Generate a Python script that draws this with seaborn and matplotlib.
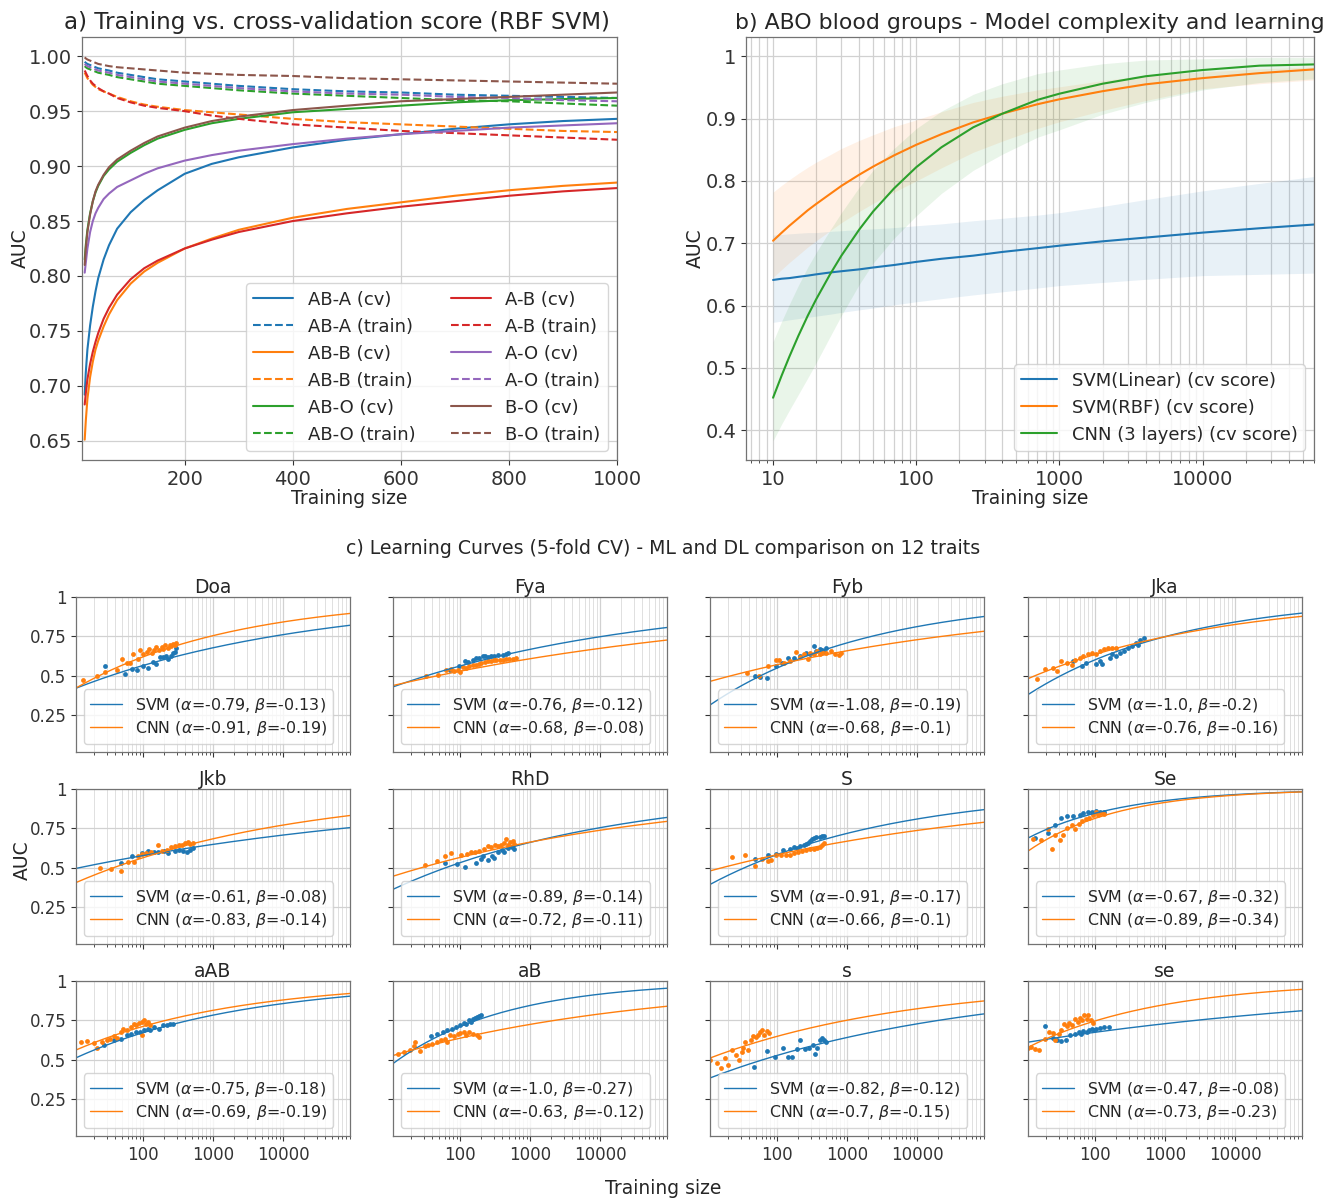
import numpy as np
import matplotlib
matplotlib.use("Agg")
import matplotlib.pyplot as plt
import seaborn as sns

# ---------------------------------------------------------------- style
sns.set_style("white")
plt.rcParams["font.family"] = ["DejaVu Sans"]
plt.rcParams["axes.edgecolor"] = "0.45"
plt.rcParams["axes.linewidth"] = 0.9
plt.rcParams["xtick.color"] = "0.2"
plt.rcParams["ytick.color"] = "0.2"
plt.rcParams["xtick.bottom"] = True
plt.rcParams["ytick.left"] = True
plt.rcParams["axes.spines.top"] = True
plt.rcParams["axes.spines.right"] = True

PAL = sns.color_palette("tab10")
C_BLUE, C_ORANGE, C_GREEN, C_RED, C_PURPLE, C_BROWN = PAL[:6]

W, H = 1326, 1199
fig = plt.figure(figsize=(W / 100, H / 100), dpi=100)


def rect(l, t, r, b):
    return [l / W, 1 - b / H, (r - l) / W, (b - t) / H]


# ---------------------------------------------------------------- panel a data
train_size_a = [15, 17, 20, 25, 30, 35, 40, 50, 60, 75, 100, 125, 150, 200, 250, 300, 400, 500, 600, 700, 800, 900, 1000]

ab_a_cv = [0.692, 0.712, 0.733, 0.755, 0.772, 0.786, 0.798, 0.815, 0.828, 0.843, 0.858, 0.869, 0.878, 0.893, 0.902, 0.908, 0.917, 0.924, 0.929, 0.934, 0.938, 0.941, 0.943]
ab_a_train = [0.995, 0.994, 0.993, 0.992, 0.991, 0.990, 0.989, 0.988, 0.987, 0.985, 0.983, 0.981, 0.979, 0.977, 0.975, 0.973, 0.970, 0.968, 0.967, 0.965, 0.964, 0.963, 0.962]
ab_b_cv = [0.651, 0.668, 0.688, 0.708, 0.722, 0.733, 0.741, 0.754, 0.765, 0.778, 0.793, 0.804, 0.812, 0.825, 0.834, 0.842, 0.853, 0.861, 0.867, 0.873, 0.878, 0.882, 0.885]
ab_b_train = [0.985, 0.983, 0.980, 0.977, 0.974, 0.972, 0.970, 0.968, 0.966, 0.963, 0.959, 0.956, 0.954, 0.951, 0.949, 0.947, 0.943, 0.940, 0.938, 0.936, 0.934, 0.932, 0.931]
ab_o_cv = [0.815, 0.828, 0.842, 0.857, 0.868, 0.876, 0.882, 0.891, 0.897, 0.904, 0.912, 0.919, 0.925, 0.933, 0.939, 0.943, 0.949, 0.952, 0.955, 0.958, 0.960, 0.961, 0.962]
ab_o_train = [0.991, 0.990, 0.989, 0.988, 0.987, 0.986, 0.985, 0.984, 0.983, 0.981, 0.979, 0.977, 0.975, 0.973, 0.971, 0.969, 0.966, 0.964, 0.962, 0.960, 0.959, 0.957, 0.955]
a_b_cv = [0.683, 0.693, 0.706, 0.720, 0.731, 0.740, 0.748, 0.761, 0.771, 0.783, 0.797, 0.807, 0.814, 0.825, 0.833, 0.840, 0.850, 0.857, 0.863, 0.868, 0.873, 0.877, 0.880]
a_b_train = [0.987, 0.985, 0.982, 0.978, 0.975, 0.973, 0.971, 0.968, 0.966, 0.962, 0.958, 0.955, 0.953, 0.950, 0.946, 0.943, 0.938, 0.935, 0.932, 0.930, 0.928, 0.926, 0.924]
a_o_cv = [0.803, 0.812, 0.825, 0.840, 0.850, 0.857, 0.862, 0.870, 0.875, 0.881, 0.887, 0.893, 0.898, 0.905, 0.910, 0.914, 0.920, 0.925, 0.929, 0.932, 0.935, 0.937, 0.939]
a_o_train = [0.993, 0.992, 0.991, 0.990, 0.989, 0.988, 0.987, 0.986, 0.985, 0.983, 0.981, 0.979, 0.977, 0.975, 0.973, 0.971, 0.968, 0.966, 0.965, 0.963, 0.962, 0.960, 0.959]
b_o_cv = [0.810, 0.825, 0.840, 0.856, 0.868, 0.877, 0.883, 0.892, 0.899, 0.906, 0.914, 0.921, 0.927, 0.935, 0.941, 0.945, 0.951, 0.955, 0.959, 0.961, 0.963, 0.965, 0.967]
b_o_train = [0.999, 0.998, 0.997, 0.996, 0.995, 0.994, 0.993, 0.992, 0.991, 0.990, 0.989, 0.988, 0.987, 0.985, 0.984, 0.983, 0.982, 0.980, 0.979, 0.978, 0.977, 0.976, 0.975]

# ---------------------------------------------------------------- panel b data
train_size_b = [10, 11.5, 13, 15, 17.5, 20, 25, 30, 40, 50, 70, 100, 150, 250, 400, 700, 1000, 2000, 4000, 10000, 25000, 60000]

svm_lin_mean = [0.641, 0.643, 0.644, 0.646, 0.648, 0.650, 0.653, 0.655, 0.658, 0.661, 0.665, 0.670, 0.675, 0.680, 0.686, 0.692, 0.696, 0.703, 0.709, 0.717, 0.724, 0.730]
svm_lin_low = [0.573, 0.575, 0.577, 0.579, 0.581, 0.583, 0.586, 0.589, 0.593, 0.596, 0.601, 0.606, 0.611, 0.617, 0.622, 0.628, 0.632, 0.637, 0.642, 0.648, 0.650, 0.652]
svm_lin_high = [0.713, 0.714, 0.715, 0.716, 0.717, 0.717, 0.719, 0.720, 0.722, 0.723, 0.725, 0.728, 0.731, 0.736, 0.740, 0.745, 0.749, 0.759, 0.770, 0.784, 0.796, 0.807]

svm_rbf_mean = [0.704, 0.717, 0.728, 0.740, 0.753, 0.763, 0.779, 0.792, 0.810, 0.823, 0.841, 0.858, 0.875, 0.894, 0.908, 0.923, 0.931, 0.944, 0.955, 0.965, 0.973, 0.979]
svm_rbf_low = [0.645, 0.658, 0.669, 0.681, 0.694, 0.704, 0.720, 0.733, 0.751, 0.764, 0.782, 0.800, 0.821, 0.846, 0.864, 0.884, 0.895, 0.913, 0.929, 0.948, 0.956, 0.962]
svm_rbf_high = [0.782, 0.793, 0.802, 0.812, 0.822, 0.830, 0.842, 0.852, 0.865, 0.874, 0.887, 0.898, 0.911, 0.926, 0.936, 0.946, 0.951, 0.961, 0.969, 0.975, 0.980, 0.983]

cnn_mean = [0.452, 0.488, 0.518, 0.551, 0.584, 0.610, 0.650, 0.680, 0.722, 0.751, 0.788, 0.822, 0.854, 0.886, 0.908, 0.930, 0.940, 0.956, 0.968, 0.978, 0.985, 0.987]
cnn_low = [0.383, 0.410, 0.432, 0.457, 0.484, 0.508, 0.550, 0.584, 0.634, 0.668, 0.708, 0.744, 0.780, 0.817, 0.843, 0.870, 0.882, 0.907, 0.926, 0.946, 0.958, 0.964]
cnn_high = [0.542, 0.575, 0.602, 0.632, 0.662, 0.685, 0.721, 0.749, 0.790, 0.817, 0.852, 0.884, 0.912, 0.939, 0.956, 0.972, 0.978, 0.988, 0.994, 0.996, 0.998, 0.998]

# ---------------------------------------------------------------- panel c data
traits = ["Doa", "Fya", "Fyb", "Jka", "Jkb", "RhD", "S", "Se", "aAB", "aB", "s", "se"]
svm_alpha = [-0.79, -0.76, -1.08, -1.0, -0.61, -0.89, -0.91, -0.67, -0.75, -1.0, -0.82, -0.47]
svm_beta = [-0.13, -0.12, -0.19, -0.2, -0.08, -0.14, -0.17, -0.32, -0.18, -0.27, -0.12, -0.08]
cnn_alpha = [-0.91, -0.68, -0.68, -0.76, -0.83, -0.72, -0.66, -0.89, -0.69, -0.63, -0.7, -0.73]
cnn_beta = [-0.19, -0.08, -0.1, -0.16, -0.14, -0.11, -0.1, -0.34, -0.19, -0.12, -0.15, -0.23]

doa_svm_n = [29, 56, 70, 82, 100, 118, 139, 155, 173, 193, 211, 228, 246, 268, 283, 299]
doa_svm_auc = [0.560, 0.514, 0.545, 0.535, 0.560, 0.552, 0.588, 0.577, 0.619, 0.619, 0.624, 0.609, 0.624, 0.645, 0.651, 0.679]
doa_cnn_n = [14, 22, 29, 43, 50, 58, 66, 72, 85, 90, 100, 112, 122, 132, 142, 155, 169, 183, 193, 208, 228, 240, 254, 268, 283, 299]
doa_cnn_auc = [0.471, 0.499, 0.524, 0.535, 0.605, 0.581, 0.583, 0.641, 0.609, 0.662, 0.636, 0.651, 0.672, 0.645, 0.662, 0.683, 0.662, 0.683, 0.672, 0.693, 0.679, 0.693, 0.687, 0.704, 0.693, 0.708]

fya_svm_n = [71, 96, 118, 129, 152, 169, 189, 211, 228, 249, 277, 309, 345, 407, 454, 480]
fya_svm_auc = [0.539, 0.560, 0.592, 0.586, 0.598, 0.613, 0.613, 0.624, 0.624, 0.619, 0.624, 0.628, 0.630, 0.634, 0.641, 0.645]
fya_cnn_n = [33, 48, 63, 74, 81, 93, 98, 109, 122, 136, 152, 169, 183, 199, 223, 249, 277, 303, 327, 365, 407, 454, 507, 566, 632]
fya_cnn_auc = [0.501, 0.507, 0.539, 0.543, 0.533, 0.539, 0.522, 0.556, 0.550, 0.560, 0.571, 0.571, 0.577, 0.581, 0.586, 0.592, 0.592, 0.598, 0.603, 0.598, 0.603, 0.607, 0.607, 0.609, 0.611]

fyb_svm_n = [49, 57, 71, 95, 117, 142, 174, 213, 260, 297, 339, 362, 403, 443, 473, 506]
fyb_svm_auc = [0.499, 0.493, 0.484, 0.562, 0.583, 0.615, 0.611, 0.626, 0.647, 0.636, 0.689, 0.657, 0.668, 0.662, 0.653, 0.674]
fyb_cnn_n = [37, 56, 75, 95, 106, 125, 152, 186, 213, 243, 278, 297, 339, 372, 414, 443, 506, 579, 662, 757, 809]
fyb_cnn_auc = [0.520, 0.499, 0.562, 0.598, 0.598, 0.583, 0.594, 0.653, 0.619, 0.636, 0.605, 0.647, 0.641, 0.657, 0.641, 0.653, 0.647, 0.657, 0.641, 0.632, 0.647]

jka_svm_n = [49, 64, 73, 102, 117, 125, 163, 174, 199, 227, 260, 297, 339, 387, 414, 443, 506]
jka_svm_auc = [0.594, 0.562, 0.583, 0.577, 0.594, 0.577, 0.615, 0.636, 0.626, 0.647, 0.657, 0.674, 0.689, 0.710, 0.696, 0.725, 0.742]
jka_cnn_n = [15, 19, 25, 29, 33, 40, 46, 51, 60, 68, 78, 89, 102, 117, 133, 152, 174, 199]
jka_cnn_auc = [0.478, 0.541, 0.548, 0.531, 0.594, 0.583, 0.569, 0.598, 0.611, 0.626, 0.641, 0.647, 0.636, 0.657, 0.668, 0.674, 0.679, 0.674]

jkb_svm_n = [48, 69, 96, 118, 144, 164, 201, 230, 281, 321, 368, 421, 469, 515]
jkb_svm_auc = [0.529, 0.572, 0.593, 0.608, 0.600, 0.600, 0.604, 0.593, 0.608, 0.615, 0.608, 0.600, 0.615, 0.625]
jkb_cnn_n = [24, 35, 48, 60, 73, 84, 96, 110, 129, 164, 188, 221, 253, 289, 321, 358, 393, 432, 469, 515]
jkb_cnn_auc = [0.501, 0.493, 0.480, 0.535, 0.540, 0.578, 0.587, 0.593, 0.600, 0.642, 0.604, 0.615, 0.630, 0.636, 0.642, 0.647, 0.657, 0.664, 0.651, 0.657]

rhd_svm_n = [60, 90, 118, 169, 201, 215, 246, 281, 301, 344, 393, 421, 481, 550, 588]
rhd_svm_auc = [0.529, 0.522, 0.508, 0.529, 0.557, 0.578, 0.550, 0.572, 0.561, 0.600, 0.615, 0.600, 0.625, 0.630, 0.621]
rhd_cnn_n = [31, 46, 60, 73, 103, 126, 144, 164, 188, 221, 246, 274, 314, 344, 378, 421, 450, 481, 515, 565, 588]
rhd_cnn_auc = [0.518, 0.544, 0.578, 0.593, 0.582, 0.587, 0.600, 0.600, 0.608, 0.621, 0.636, 0.630, 0.647, 0.636, 0.642, 0.657, 0.685, 0.647, 0.664, 0.672, 0.651]

s_up_svm_n = [49, 73, 95, 121, 152, 174, 191, 213, 243, 260, 278, 297, 318, 339, 362, 403, 443, 473]
s_up_svm_auc = [0.558, 0.584, 0.590, 0.611, 0.622, 0.633, 0.626, 0.639, 0.648, 0.654, 0.660, 0.669, 0.682, 0.690, 0.696, 0.696, 0.701, 0.703]
s_up_cnn_n = [23, 35, 48, 60, 73, 83, 95, 112, 133, 152, 174, 199, 227, 260, 297, 339, 372, 414, 443, 473]
s_up_cnn_auc = [0.569, 0.580, 0.512, 0.554, 0.541, 0.548, 0.580, 0.580, 0.584, 0.584, 0.597, 0.601, 0.605, 0.611, 0.618, 0.622, 0.626, 0.633, 0.643, 0.660]

se_up_svm_n = [14, 21, 27, 33, 40, 49, 60, 68, 78, 89, 102, 117, 133]
se_up_svm_auc = [0.690, 0.718, 0.771, 0.813, 0.830, 0.830, 0.834, 0.845, 0.851, 0.856, 0.860, 0.851, 0.856]
se_up_cnn_n = [13, 17, 21, 24, 27, 31, 35, 40, 46, 52, 58, 64, 73, 83, 92, 102, 109, 120, 133]
se_up_cnn_auc = [0.686, 0.675, 0.745, 0.618, 0.711, 0.675, 0.707, 0.754, 0.771, 0.749, 0.781, 0.796, 0.809, 0.817, 0.834, 0.851, 0.834, 0.845, 0.839]

aab_svm_n = [28, 39, 48, 59, 68, 78, 90, 103, 118, 127, 145, 167, 192, 220, 243, 271]
aab_svm_auc = [0.591, 0.623, 0.634, 0.655, 0.662, 0.677, 0.677, 0.687, 0.698, 0.687, 0.709, 0.698, 0.719, 0.719, 0.730, 0.726]
aab_cnn_n = [13, 16, 20, 22, 26, 30, 34, 38, 42, 48, 51, 59, 68, 73, 78, 87, 96, 103, 110, 118, 127, 96]
aab_cnn_auc = [0.613, 0.619, 0.606, 0.577, 0.613, 0.628, 0.634, 0.649, 0.640, 0.677, 0.698, 0.687, 0.709, 0.730, 0.719, 0.734, 0.740, 0.751, 0.726, 0.740, 0.719, 0.655]

ab_svm_n = [39, 46, 57, 66, 76, 87, 100, 115, 123, 132, 142, 152, 163, 175, 188, 201]
ab_svm_auc = [0.649, 0.662, 0.677, 0.687, 0.698, 0.709, 0.719, 0.734, 0.726, 0.751, 0.740, 0.762, 0.768, 0.772, 0.777, 0.783]
ab_cnn_n = [13, 16, 19, 22, 23, 27, 31, 35, 40, 46, 53, 61, 66, 71, 81, 93, 100, 115, 123, 132, 152, 175, 188]
ab_cnn_auc = [0.538, 0.549, 0.560, 0.585, 0.613, 0.555, 0.585, 0.591, 0.602, 0.613, 0.623, 0.634, 0.613, 0.655, 0.649, 0.662, 0.670, 0.677, 0.655, 0.677, 0.666, 0.655, 0.645]

s_lo_svm_n = [46, 71, 93, 120, 142, 163, 193, 215, 248, 285, 327, 351, 376, 404, 433, 465, 498]
s_lo_svm_auc = [0.457, 0.555, 0.517, 0.577, 0.517, 0.517, 0.570, 0.623, 0.570, 0.577, 0.591, 0.534, 0.577, 0.628, 0.640, 0.623, 0.613]
s_lo_cnn_n = [11, 14, 16, 18, 20, 23, 26, 29, 31, 33, 35, 39, 42, 45, 50, 53, 57, 61, 66, 71, 76]
s_lo_cnn_auc = [0.496, 0.479, 0.449, 0.513, 0.470, 0.560, 0.528, 0.496, 0.549, 0.577, 0.613, 0.564, 0.623, 0.649, 0.645, 0.655, 0.677, 0.687, 0.655, 0.683, 0.670]

se_lo_svm_n = [19, 25, 29, 33, 38, 44, 51, 59, 63, 67, 76, 83, 89, 96, 103, 118, 136, 157]
se_lo_svm_auc = [0.713, 0.640, 0.623, 0.619, 0.623, 0.655, 0.666, 0.677, 0.666, 0.683, 0.677, 0.687, 0.698, 0.687, 0.698, 0.704, 0.709, 0.709]
se_lo_cnn_n = [11, 12, 14, 16, 19, 22, 25, 27, 30, 33, 36, 40, 43, 47, 51, 57, 60, 66, 69, 76, 80, 87, 92]
se_lo_cnn_auc = [0.577, 0.581, 0.570, 0.564, 0.634, 0.677, 0.670, 0.628, 0.666, 0.687, 0.726, 0.713, 0.734, 0.719, 0.762, 0.740, 0.768, 0.755, 0.783, 0.762, 0.787, 0.751, 0.734]

points = [
    (doa_svm_n, doa_svm_auc, doa_cnn_n, doa_cnn_auc),
    (fya_svm_n, fya_svm_auc, fya_cnn_n, fya_cnn_auc),
    (fyb_svm_n, fyb_svm_auc, fyb_cnn_n, fyb_cnn_auc),
    (jka_svm_n, jka_svm_auc, jka_cnn_n, jka_cnn_auc),
    (jkb_svm_n, jkb_svm_auc, jkb_cnn_n, jkb_cnn_auc),
    (rhd_svm_n, rhd_svm_auc, rhd_cnn_n, rhd_cnn_auc),
    (s_up_svm_n, s_up_svm_auc, s_up_cnn_n, s_up_cnn_auc),
    (se_up_svm_n, se_up_svm_auc, se_up_cnn_n, se_up_cnn_auc),
    (aab_svm_n, aab_svm_auc, aab_cnn_n, aab_cnn_auc),
    (ab_svm_n, ab_svm_auc, ab_cnn_n, ab_cnn_auc),
    (s_lo_svm_n, s_lo_svm_auc, s_lo_cnn_n, s_lo_cnn_auc),
    (se_lo_svm_n, se_lo_svm_auc, se_lo_cnn_n, se_lo_cnn_auc),
]

GRID_MAJ = dict(color="0.82", linewidth=0.9)
GRID_MIN = dict(color="0.88", linewidth=0.7)

# ---------------------------------------------------------------- panel a
ax_a = fig.add_axes(rect(82, 37, 617, 460))
series_a = [
    ("AB-A", C_BLUE, ab_a_cv, ab_a_train),
    ("AB-B", C_ORANGE, ab_b_cv, ab_b_train),
    ("AB-O", C_GREEN, ab_o_cv, ab_o_train),
    ("A-B", C_RED, a_b_cv, a_b_train),
    ("A-O", C_PURPLE, a_o_cv, a_o_train),
    ("B-O", C_BROWN, b_o_cv, b_o_train),
]
for name, col, cv, tr in series_a:
    sns.lineplot(x=train_size_a, y=cv, ax=ax_a, color=col, linewidth=1.5,
                 label=f"{name} (cv)", estimator=None, sort=False)
    sns.lineplot(x=train_size_a, y=tr, ax=ax_a, color=col, linewidth=1.5,
                 linestyle="--", label=f"{name} (train)", estimator=None, sort=False)
ax_a.set_xlim(10, 1000)
ax_a.set_ylim(0.6325, 1.0175)
ax_a.set_xticks([200, 400, 600, 800, 1000])
ax_a.set_yticks(np.arange(0.65, 1.001, 0.05))
ax_a.set_yticklabels([f"{v:.2f}" for v in np.arange(0.65, 1.001, 0.05)])
ax_a.grid(True, **GRID_MAJ)
ax_a.tick_params(labelsize=14)
ax_a.set_xlabel("Training size", fontsize=13.5, labelpad=0)
ax_a.set_ylabel("AUC", fontsize=13.5)
ax_a.yaxis.set_label_coords((30 - 82) / 535, 0.5)
ax_a.set_title("a) Training vs. cross-validation score (RBF SVM)", fontsize=16.6, pad=6,
               x=(337 - 82) / 535)
ax_a.legend(ncol=2, loc="lower right", fontsize=13, handlelength=2.2,
            columnspacing=2.0, borderaxespad=0.5)

# ---------------------------------------------------------------- panel b
ax_b = fig.add_axes(rect(746, 37, 1314, 460))
ax_b.set_xscale("log")
series_b = [
    ("SVM(Linear) (cv score)", C_BLUE, svm_lin_mean, svm_lin_low, svm_lin_high),
    ("SVM(RBF) (cv score)", C_ORANGE, svm_rbf_mean, svm_rbf_low, svm_rbf_high),
    ("CNN (3 layers) (cv score)", C_GREEN, cnn_mean, cnn_low, cnn_high),
]
for name, col, mean, low, high in series_b:
    ax_b.fill_between(train_size_b, low, high, color=col, alpha=0.1, linewidth=0)
    sns.lineplot(x=train_size_b, y=mean, ax=ax_b, color=col, linewidth=1.5,
                 label=name, estimator=None, sort=False)
ax_b.set_xlim(6.47, 60000)
ax_b.set_ylim(0.352, 1.031)
ax_b.set_xticks([10, 100, 1000, 10000])
ax_b.set_xticklabels(["10", "100", "1000", "10000"])
yt = [0.4, 0.5, 0.6, 0.7, 0.8, 0.9, 1.0]
ax_b.set_yticks(yt)
ax_b.set_yticklabels(["0.4", "0.5", "0.6", "0.7", "0.8", "0.9", "1"])
ax_b.grid(True, which="major", **GRID_MAJ)
ax_b.grid(True, which="minor", axis="x", **GRID_MAJ)
ax_b.tick_params(labelsize=14)
ax_b.set_xlabel("Training size", fontsize=13.5, labelpad=0)
ax_b.set_ylabel("AUC", fontsize=13.5)
ax_b.yaxis.set_label_coords((705 - 746) / 568, 0.5)
ax_b.set_title("b) ABO blood groups - Model complexity and learning", fontsize=15.8, pad=6)
handles = [l for l in ax_b.get_lines() if not l.get_label().startswith("_")]
ax_b.legend(handles=handles, labels=[h.get_label() for h in handles],
            loc="lower right", fontsize=13, borderaxespad=0.5)

# ---------------------------------------------------------------- panel c
col_left = [76, 393, 710, 1028]
row_top = [597, 789, 981]
pw, ph = 274, 155
n_fit = np.logspace(np.log10(11), np.log10(90000), 300)

for i, trait in enumerate(traits):
    r, c = divmod(i, 4)
    l, t = col_left[c], row_top[r]
    ax = fig.add_axes(rect(l, t, l + pw, t + ph))
    ax.set_xscale("log")
    svm_n, svm_auc, cnn_n, cnn_auc = points[i]

    sa, sb = svm_alpha[i], svm_beta[i]
    ca, cb = cnn_alpha[i], cnn_beta[i]
    sns.lineplot(x=n_fit, y=1 + sa * n_fit ** sb, ax=ax, color=C_BLUE, linewidth=1.0,
                 label=rf"SVM ($\alpha$={sa}, $\beta$={sb})", estimator=None, sort=False)
    sns.lineplot(x=n_fit, y=1 + ca * n_fit ** cb, ax=ax, color=C_ORANGE, linewidth=1.0,
                 label=rf"CNN ($\alpha$={ca}, $\beta$={cb})", estimator=None, sort=False)
    sns.scatterplot(x=svm_n, y=svm_auc, ax=ax, color=C_BLUE, s=12, linewidth=0, legend=False)
    sns.scatterplot(x=cnn_n, y=cnn_auc, ax=ax, color=C_ORANGE, s=12, linewidth=0, legend=False)

    ax.set_xlim(11, 90000)
    ax.set_ylim(0.017, 1.0)
    ax.set_xticks([100, 1000, 10000])
    ax.set_yticks([0.25, 0.5, 0.75, 1.0])
    if r == 2:
        ax.set_xticklabels(["100", "1000", "10000"])
    else:
        ax.set_xticklabels([])
    if c == 0:
        ax.set_yticklabels(["0.25", "0.5", "0.75", "1"])
    else:
        ax.set_yticklabels([])
    ax.tick_params(labelsize=12)
    ax.grid(True, which="major", **GRID_MAJ)
    ax.grid(True, which="minor", axis="x", **GRID_MIN)
    ax.set_xlabel("")
    ax.set_ylabel("")
    ax.set_title(trait, fontsize=13.5, pad=3)
    hs = [l_ for l_ in ax.get_lines() if not l_.get_label().startswith("_")]
    ax.legend(handles=hs, labels=[h.get_label() for h in hs], loc="lower left",
              fontsize=11.4, borderaxespad=0.5, labelspacing=0.25)

fig.text(0.5, 1 - 549 / H, "c) Learning Curves (5-fold CV) - ML and DL comparison on 12 traits",
         ha="center", va="center", fontsize=13.6)
fig.text(0.5, 1 - 1188 / H, "Training size", ha="center", va="center", fontsize=13.5)
fig.text(22 / W, 1 - 860 / H, "AUC", ha="center", va="center", rotation=90, fontsize=13.5)

fig.savefig("out.png", dpi=100)
